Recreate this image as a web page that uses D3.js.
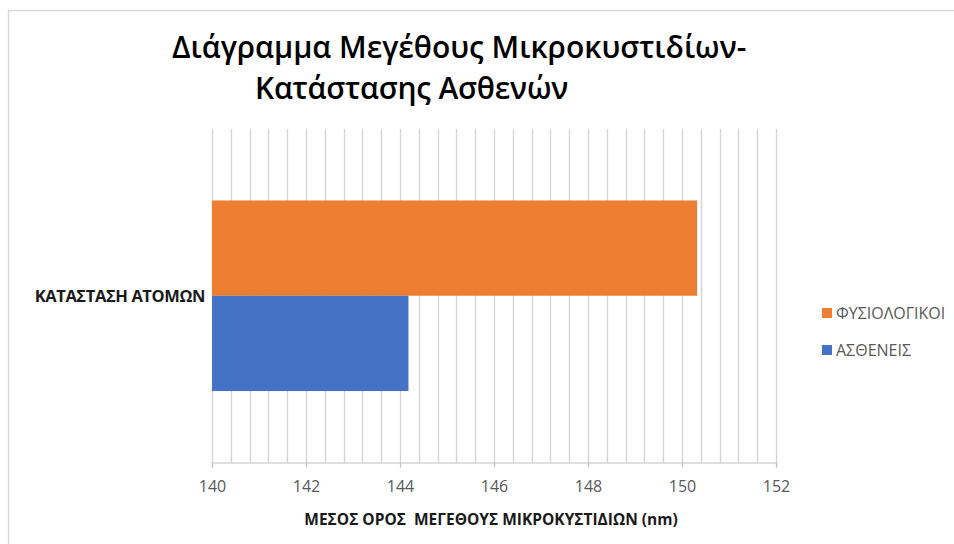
<!DOCTYPE html>
<html>
<head>
<meta charset="utf-8">
<script src="https://cdn.jsdelivr.net/npm/d3@7"></script>
<style>
  html, body { margin: 0; padding: 0; background: #fff; }
  svg { display: block; font-family: "Open Sans", "Noto Sans", sans-serif; }
</style>
</head>
<body>
<svg id="chart" width="954" height="544"></svg>
<script>
// Chart data
const categories = ["ΚΑΤΑΣΤΑΣΗ ΑΤΟΜΩΝ"];
const seriesNames = ["ΦΥΣΙΟΛΟΓΙΚΟΙ", "ΑΣΘΕΝΕΙΣ"];
const seriesValues = [[150.32], [144.18]];
const seriesColors = ["#ED7D31", "#4472C4"];
const tickValues = [140, 142, 144, 146, 148, 150, 152];
const titleLines = ["Διάγραμμα Μεγέθους Μικροκυστιδίων-", "Κατάστασης Ασθενών"];
const axisTitle = "ΜΕΣΟΣ ΟΡΟΣ  ΜΕΓΕΘΟΥΣ ΜΙΚΡΟΚΥΣΤΙΔΙΩΝ (nm)";

const svg = d3.select("#chart");
const W = 954, H = 544;
const plot = { left: 212, right: 776, top: 129, bottom: 462.5 };

// chart frame
svg.append("rect")
  .attr("x", 8.5).attr("y", 10.5)
  .attr("width", W + 20).attr("height", H + 20)
  .attr("fill", "#fff").attr("stroke", "#D9D9D9").attr("stroke-width", 1.5);

// scales
const x = d3.scaleLinear().domain([140, 152]).range([plot.left, plot.right]);
const y = d3.scaleBand().domain(categories)
  .range([plot.top, plot.bottom])
  .paddingInner(1.5 / 3.5).paddingOuter(0.75 / 3.5);
const ySeries = d3.scaleBand().domain(seriesNames).range([0, y.bandwidth()]);

// minor gridlines every 0.4
const minorTicks = d3.range(0, 31).map(i => 140 + i * 0.4);
svg.append("g")
  .selectAll("line")
  .data(minorTicks)
  .join("line")
  .attr("x1", d => Math.round(x(d)) + 0.5).attr("x2", d => Math.round(x(d)) + 0.5)
  .attr("y1", plot.top).attr("y2", plot.bottom)
  .attr("stroke", "#D4D4D4").attr("stroke-width", 1.4);

// bars
const rows = [];
categories.forEach((c, ci) => {
  seriesNames.forEach((s, si) => rows.push({ c, s, v: seriesValues[si][ci], color: seriesColors[si] }));
});
svg.append("g")
  .selectAll("rect")
  .data(rows)
  .join("rect")
  .attr("x", x(140))
  .attr("y", d => y(d.c) + ySeries(d.s))
  .attr("width", d => x(d.v) - x(140))
  .attr("height", ySeries.bandwidth())
  .attr("fill", d => d.color);

// x axis
const xAxis = d3.axisBottom(x).tickValues(tickValues).tickSize(5).tickPadding(13).tickFormat(d3.format("d"));
const gx = svg.append("g")
  .attr("transform", `translate(0,${plot.bottom})`)
  .call(xAxis);
gx.select(".domain").attr("stroke", "#BFBFBF").attr("stroke-width", 1.2);
gx.selectAll(".tick line").attr("stroke", "#BFBFBF").attr("stroke-width", 1.2);
gx.selectAll(".tick text")
  .attr("fill", "#595959")
  .style("font-size", "16px")
  .style("font-family", "'Open Sans', sans-serif");

// axis title
svg.append("text")
  .attr("x", 491).attr("y", 525)
  .attr("text-anchor", "middle")
  .style("white-space", "pre")
  .attr("font-size", "15.5px").attr("font-weight", "bold")
  .attr("fill", "#1a1a1a")
  .text(axisTitle);

// category label
svg.append("g").selectAll("text")
  .data(categories)
  .join("text")
  .attr("x", 205)
  .attr("y", d => y(d) + y.bandwidth() / 2)
  .attr("dy", "0.35em")
  .attr("text-anchor", "end")
  .attr("font-size", "16.5px").attr("font-weight", "bold")
  .attr("fill", "#1a1a1a")
  .attr("letter-spacing", "-0.4px")
  .text(d => d);

// title
const title = svg.append("g").attr("fill", "#000").attr("font-size", "30px").attr("font-weight", 600);
title.append("text").attr("x", 172).attr("y", 58).text(titleLines[0]);
title.append("text").attr("x", 255).attr("y", 99).attr("letter-spacing", "-0.2px").text(titleLines[1]);

// legend
const legend = svg.append("g")
  .selectAll("g")
  .data(seriesNames)
  .join("g")
  .attr("transform", (d, i) => `translate(822,${313 + i * 37})`);
legend.append("rect")
  .attr("x", 0).attr("y", -5).attr("width", 10).attr("height", 10)
  .attr("fill", (d, i) => seriesColors[i]);
legend.append("text")
  .attr("x", 14).attr("dy", "0.35em")
  .attr("font-size", "16px").attr("fill", "#595959")
  .text(d => d);
</script>
</body>
</html>
